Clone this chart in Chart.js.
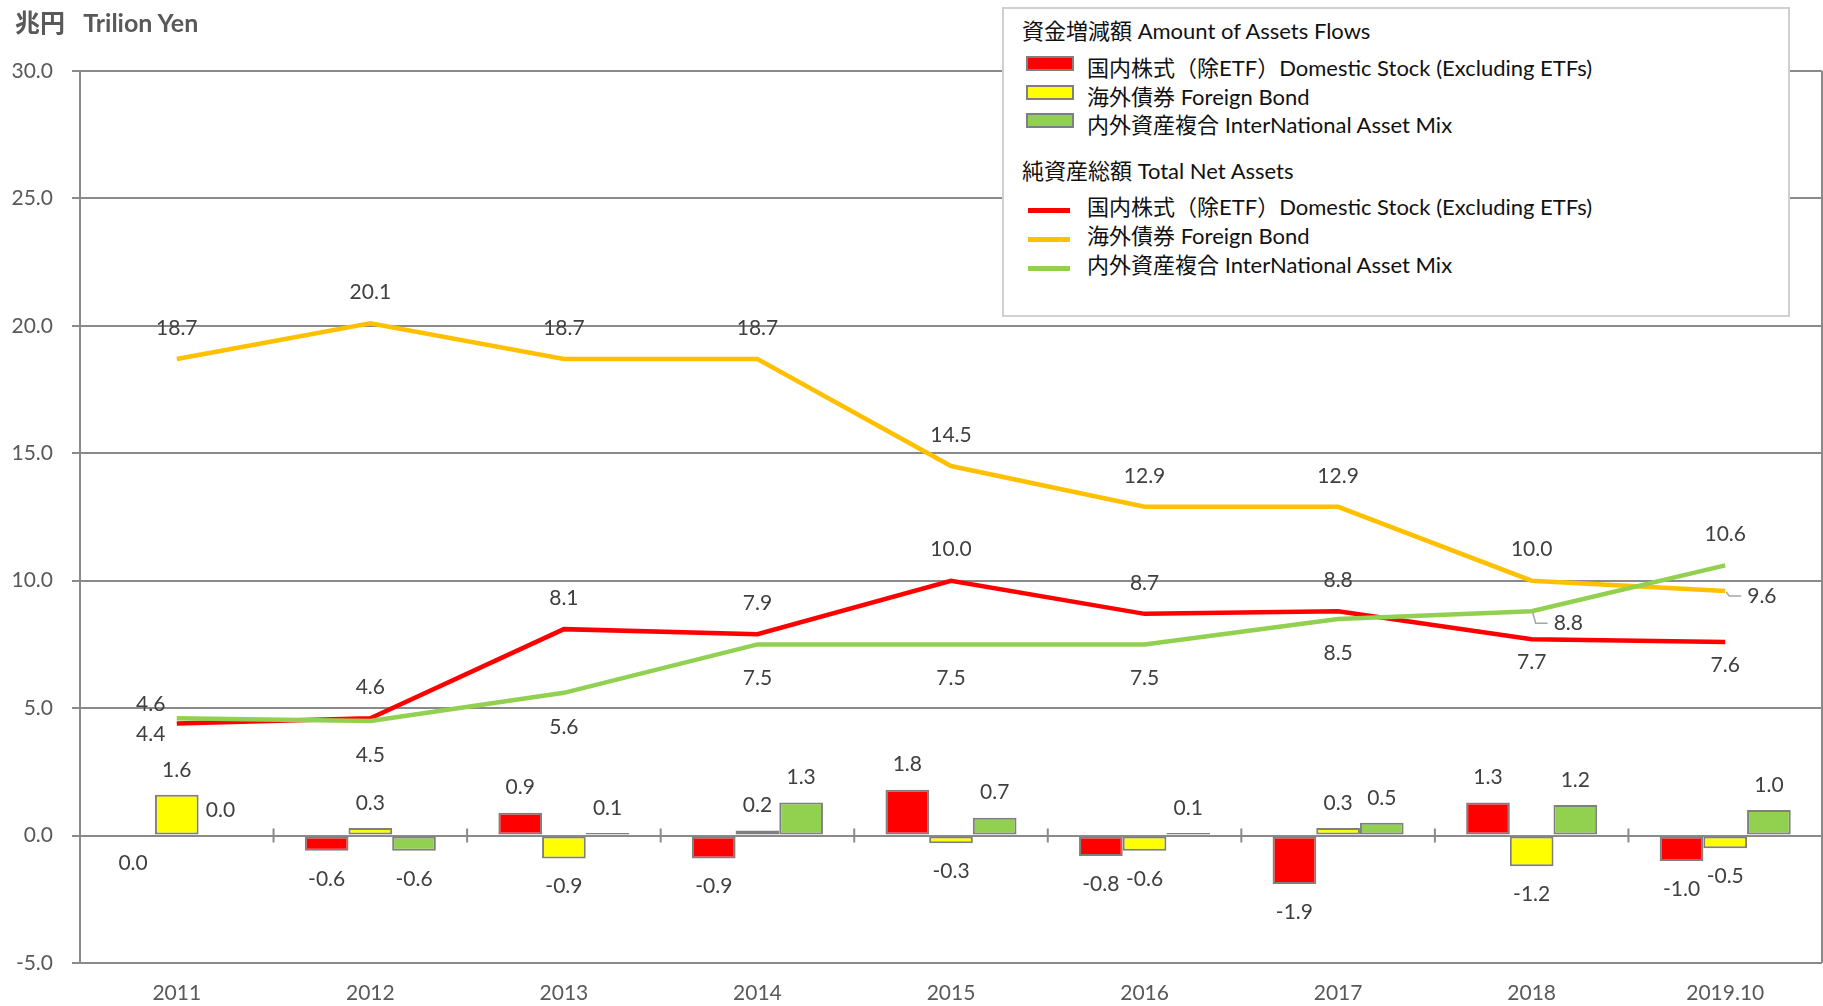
<!DOCTYPE html>
<html>
<head>
<meta charset="utf-8">
<script src="https://cdn.jsdelivr.net/npm/chart.js@4.4.0/dist/chart.umd.min.js"></script>
<style>
  body { margin: 0; background: #fff; }
  #wrap { position: relative; width: 1823px; height: 1006px; }
  #unitTitle {
    position: absolute; left: 15px; top: 3px;
    font: bold 25px 'Lato', 'Noto Sans CJK JP', sans-serif; color: #595959;
    white-space: pre;
  }
  #legendBox {
    position: absolute; left: 1002px; top: 7px; width: 788px; height: 310px;
    box-sizing: border-box; border: 2px solid #d0d0d0; background: #fff;
    font: 22px 'Lato', 'Noto Sans CJK JP', sans-serif; color: #111;
  }
  #legendBox div { position: absolute; white-space: nowrap; line-height: 28px; }
  #legendBox .swatch { box-sizing: border-box; border: 2px solid #7f7f7f; width: 48px; height: 15px; }
  #legendBox .stroke { width: 42px; height: 5px; }
</style>
</head>
<body>
<div id="wrap">
  <canvas id="flowChart"></canvas>
  <div id="unitTitle">兆円   Trilion Yen</div>
  <div id="legendBox"></div>
</div>
<script>
// ===== Investment trust flows / net assets =====

const years = ['2011', '2012', '2013', '2014', '2015', '2016', '2017', '2018', '2019.10'];
const yTicks = [-5, 0, 5, 10, 15, 20, 25, 30];

const seriesNames = [
  '国内株式（除ETF）Domestic Stock (Excluding ETFs)',
  '海外債券 Foreign Bond',
  '内外資産複合 InterNational Asset Mix'
];
const flowHeading = '資金増減額 Amount of Assets Flows';
const netHeading = '純資産総額 Total Net Assets';

// Amount of assets flows (bars), trillion yen
const flowDomestic = [0.0, -0.6, 0.9, -0.9, 1.8, -0.8, -1.9, 1.3, -1.0];
const flowForeignBond = [1.6, 0.3, -0.9, 0.2, -0.3, -0.6, 0.3, -1.2, -0.5];
const flowAssetMix = [0.0, -0.6, 0.1, 1.3, 0.7, 0.1, 0.5, 1.2, 1.0];

// Total net assets (lines), trillion yen
const netDomestic = [4.4, 4.6, 8.1, 7.9, 10.0, 8.7, 8.8, 7.7, 7.6];
const netForeignBond = [18.7, 20.1, 18.7, 18.7, 14.5, 12.9, 12.9, 10.0, 9.6];
const netAssetMix = [4.6, 4.5, 5.6, 7.5, 7.5, 7.5, 8.5, 8.8, 10.6];

// where each value label sits: t = above, b = below, tl/bl = left, r/rd = right with leader
const flowDomesticPos = ['b', 'b', 't', 'b', 't', 'b', 'b', 't', 'b'];
const flowForeignBondPos = ['t', 't', 'b', 't', 'b', 'b', 't', 'b', 'b'];
const flowAssetMixPos = ['t', 'b', 't', 't', 't', 't', 't', 't', 't'];
const netDomesticPos = ['bl', 't', 't', 't', 't', 't', 't', 'b', 'b'];
const netForeignBondPos = ['t', 't', 't', 't', 't', 't', 't', 't', 'r'];
const netAssetMixPos = ['tl', 'b', 'b', 'b', 'b', 'b', 'b', 'rd', 't'];

const RED = '#FF0000';
const YELLOW = '#FFFF00';
const ORANGE = '#FFC000';
const GREEN = '#92D050';
const GRID = '#8a8a8a';
const TEXT = '#404040';

Chart.defaults.font.family = "'Lato', 'Noto Sans CJK JP', sans-serif";
Chart.defaults.font.size = 21;

document.addEventListener('DOMContentLoaded', () => {
  buildLegend();
  renderChart();
});

/**
 * Static two-part legend (bars + lines), as in the original.
 */
function buildLegend() {
  const box = document.getElementById('legendBox');
  const add = (cls, css, text) => {
    const d = document.createElement('div');
    if (cls) d.className = cls;
    Object.assign(d.style, css);
    if (text) d.textContent = text;
    box.appendChild(d);
  };

  const barColors = [RED, YELLOW, GREEN];
  const lineColors = [RED, ORANGE, GREEN];

  add('', { left: '18px', top: '8px' }, flowHeading);
  seriesNames.forEach((name, i) => {
    const top = 45 + i * 28.7;
    add('swatch', { left: '22px', top: (top + 2) + 'px', background: barColors[i] });
    add('', { left: '83px', top: top + 'px' }, name);
  });

  add('', { left: '18px', top: '148px' }, netHeading);
  seriesNames.forEach((name, i) => {
    const top = 184 + i * 29;
    add('stroke', { left: '24px', top: (top + 15) + 'px', background: lineColors[i] });
    add('', { left: '83px', top: top + 'px' }, name);
  });
}

/**
 * Value labels drawn next to every bar and line point.
 */
const valueLabels = {
  id: 'valueLabels',
  afterDatasetsDraw(chart) {
    const ctx = chart.ctx;
    ctx.save();
    ctx.font = "21px 'Lato', sans-serif";
    ctx.fillStyle = TEXT;
    ctx.textBaseline = 'middle';

    chart.data.datasets.forEach((ds, di) => {
      const meta = chart.getDatasetMeta(di);
      meta.data.forEach((el, i) => {
        const txt = ds.data[i].toFixed(1);
        const pos = ds.labelPos[i];
        ctx.textAlign = 'center';

        if (ds.type === 'bar') {
          const top = Math.min(el.y, el.base);
          const bottom = Math.max(el.y, el.base);
          if (pos === 't') ctx.fillText(txt, el.x, top - 25);
          else ctx.fillText(txt, el.x, bottom + 28);
          return;
        }

        if (pos === 't') {
          ctx.fillText(txt, el.x, el.y - 31);
        } else if (pos === 'b') {
          ctx.fillText(txt, el.x, el.y + ds.belowGap);
        } else if (pos === 'tl') {
          ctx.fillText(txt, el.x - 26, el.y - 14);
        } else if (pos === 'bl') {
          ctx.fillText(txt, el.x - 26, el.y + 11);
        } else {
          // label to the right with a small grey leader line
          const dy = pos === 'rd' ? 12 : 5;
          ctx.strokeStyle = '#a6a6a6';
          ctx.lineWidth = 1.5;
          ctx.beginPath();
          ctx.moveTo(el.x + 1, el.y + 1);
          ctx.lineTo(el.x + 4, el.y + dy);
          ctx.lineTo(el.x + 16, el.y + dy);
          ctx.stroke();
          ctx.textAlign = 'left';
          ctx.fillText(txt, el.x + 22, el.y + dy);
        }
      });
    });
    ctx.restore();
  }
};

/**
 * Right frame edge and the category tick marks sitting on the zero line.
 */
const frameLines = {
  id: 'frameLines',
  beforeDatasetsDraw(chart) {
    const { ctx, chartArea, scales: { x, y } } = chart;
    ctx.save();
    ctx.strokeStyle = GRID;
    ctx.lineWidth = 2;
    ctx.beginPath();
    ctx.moveTo(chartArea.right, chartArea.top);
    ctx.lineTo(chartArea.right, chartArea.bottom);
    const y0 = y.getPixelForValue(0);
    for (let i = 0; i < years.length - 1; i++) {
      const bx = (x.getPixelForValue(i) + x.getPixelForValue(i + 1)) / 2;
      ctx.moveTo(bx, y0 - 7);
      ctx.lineTo(bx, y0 + 7);
    }
    ctx.stroke();
    ctx.restore();
  }
};

function barSet(label, data, color, labelPos) {
  return {
    type: 'bar',
    label,
    data,
    labelPos,
    backgroundColor: color,
    borderColor: '#7f7f7f',
    borderWidth: 2,
    borderSkipped: false,
    categoryPercentage: 0.677,
    barPercentage: 1.0,
    order: 4
  };
}

function lineSet(label, data, color, labelPos, belowGap, order) {
  return {
    type: 'line',
    label,
    data,
    labelPos,
    belowGap,
    borderColor: color,
    backgroundColor: color,
    borderWidth: 4.5,
    pointRadius: 0,
    tension: 0,
    fill: false,
    order
  };
}

function renderChart() {
  const ctx = document.getElementById('flowChart').getContext('2d');

  new Chart(ctx, {
    data: {
      labels: years,
      datasets: [
        barSet(seriesNames[0], flowDomestic, RED, flowDomesticPos),
        barSet(seriesNames[1], flowForeignBond, YELLOW, flowForeignBondPos),
        barSet(seriesNames[2], flowAssetMix, GREEN, flowAssetMixPos),
        lineSet(seriesNames[0], netDomestic, RED, netDomesticPos, 23, 2),
        lineSet(seriesNames[1], netForeignBond, ORANGE, netForeignBondPos, 31, 3),
        lineSet(seriesNames[2], netAssetMix, GREEN, netAssetMixPos, 34, 1)
      ]
    },
    options: {
      responsive: true,
      maintainAspectRatio: false,
      animation: false,
      layout: { padding: { top: 71, right: 1, left: 0, bottom: 0 } },
      plugins: {
        legend: { display: false },
        tooltip: { enabled: false }
      },
      scales: {
        x: {
          grid: { display: false, drawTicks: false },
          border: { display: false },
          ticks: { color: '#595959', padding: 18 },
          afterFit: s => { s.height = 43; }
        },
        y: {
          min: -5,
          max: 30,
          afterBuildTicks: s => { s.ticks = yTicks.map(v => ({ value: v })); },
          grid: { color: GRID, lineWidth: 2, tickLength: 8 },
          border: { display: true, color: GRID, width: 2 },
          ticks: { color: '#595959', padding: 19, callback: v => v.toFixed(1) },
          afterFit: s => { s.width = 80; }
        }
      }
    },
    plugins: [frameLines, valueLabels]
  });
}
</script>
</body>
</html>
